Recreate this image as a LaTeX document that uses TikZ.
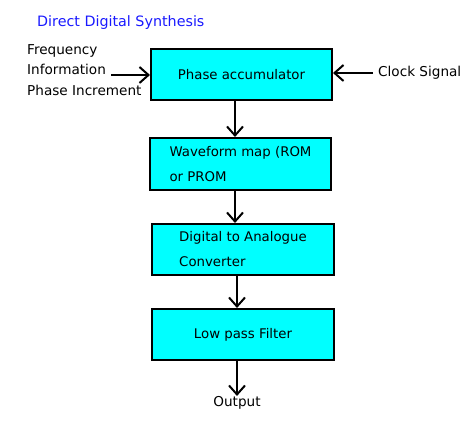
\documentclass[tikz,border=0pt]{standalone}
\usepackage{fontspec}
\setmainfont{DejaVu Sans}
\usetikzlibrary{arrows.meta,
  calc,
  positioning
}
\definecolor{ddscyan}{rgb}{0.0,1.0,1.0}
\definecolor{ddsblue}{rgb}{0.1,0.1,1.0}

\tikzset{
  block/.style={draw=black, fill=ddscyan, line width=2pt, inner sep=0pt,
    align=left, font=\fontsize{13.3}{25}\selectfont},
  plain/.style={inner sep=0pt, align=left, font=\fontsize{13.6}{20.5}\selectfont},
  flow/.style={-{Straight Barb[length=9pt,width=16pt]}, line width=2pt}
}

\begin{document}
\begin{tikzpicture}[x=1pt,y=-1pt]
  \useasboundingbox (0,0) rectangle (475,427);

  \node[plain,ddsblue,anchor=west,font=\fontsize{14.3}{17}\selectfont] (title) at (37,23)
  {Direct Digital Synthesis};

  \node[block,minimum width=181pt,minimum height=51pt] (phase) at (241.5,75)
  {Phase accumulator};
  \node[block,minimum width=181pt,minimum height=52pt] (wave) at (240.5,164)
  {Waveform map (ROM\\ or PROM};
  \node[block,minimum width=182pt,minimum height=51pt] (dac) at (243,249.5)
  {Digital to Analogue\\Converter};
  \node[block,minimum width=182pt,minimum height=51pt] (lpf) at (243,334.5)
  {Low pass Filter};

  \node[plain,anchor=west] (freq) at (27,70) {Frequency\\Information\\Phase Increment};
  \coordinate (freqin) at (111,75);
  \node[plain,anchor=west] (clock) at (378,73) {Clock Signal};
  \node[plain,anchor=north] (output) at (237,396) {Output};

  \draw[flow] (freqin) -- (freqin -| phase.west);
  \draw[flow] ([xshift=-5pt]clock.west) -- (clock.west -| phase.east);
  \draw[flow] ([xshift=-6.5pt]phase.south) -- ([xshift=-5.5pt]wave.north);
  \draw[flow] ([xshift=-5.5pt]wave.south) -- ([xshift=-8pt]dac.north);
  \draw[flow] ([xshift=-6pt]dac.south) -- ([xshift=-6pt]lpf.north);
  \draw[flow] ([xshift=-6pt]lpf.south) -- (output.north);
\end{tikzpicture}
\end{document}
